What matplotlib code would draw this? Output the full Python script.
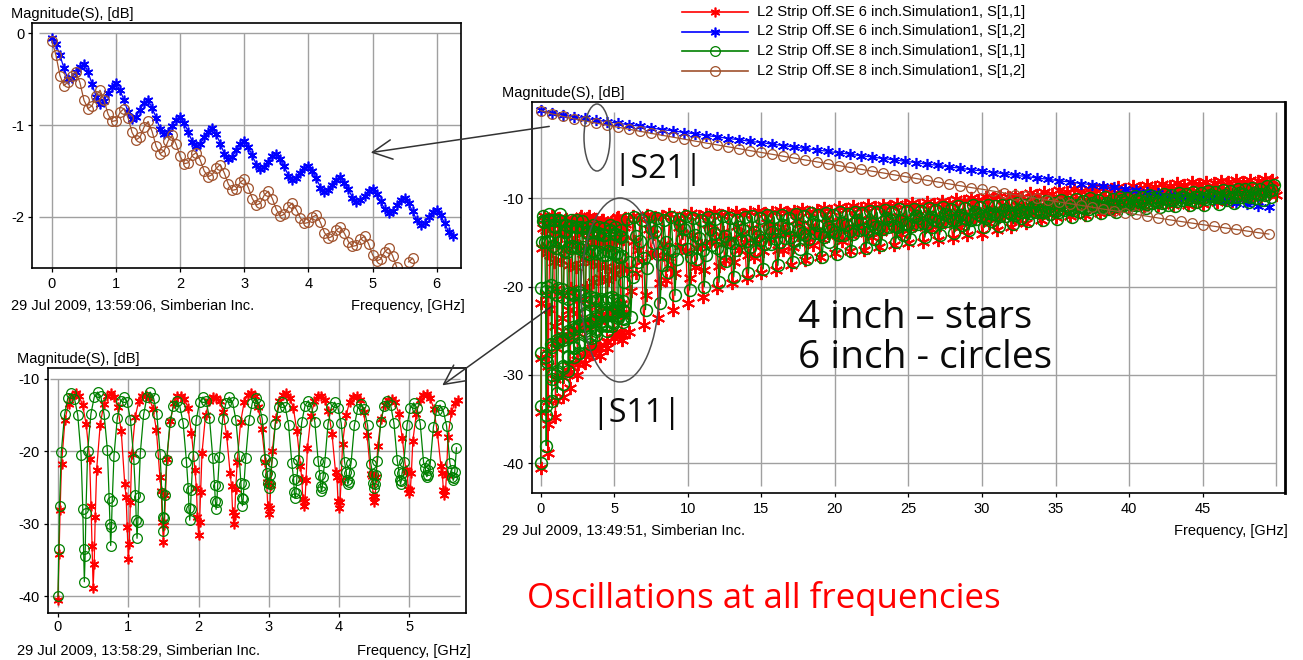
import numpy as np
import matplotlib
matplotlib.use("Agg")
import matplotlib.pyplot as plt
from matplotlib.lines import Line2D
from matplotlib.patches import Ellipse, FancyArrowPatch

plt.rcParams['font.family'] = ['Liberation Sans', 'DejaVu Sans']
plt.rcParams['axes.unicode_minus'] = False

W, H = 1303, 660

# ---------------- data ----------------
# top-left zoom: |S21| 0..6.25 GHz, step 0.0625 GHz
tl_s21_6in = [
    -0.05, -0.12, -0.24, -0.38, -0.50, -0.49, -0.42, -0.37,
    -0.33, -0.42, -0.55, -0.69, -0.77, -0.74, -0.65, -0.58,
    -0.54, -0.62, -0.73, -0.86, -0.93, -0.91, -0.83, -0.76,
    -0.73, -0.81, -0.92, -1.04, -1.10, -1.08, -1.01, -0.94,
    -0.91, -0.98, -1.07, -1.18, -1.23, -1.21, -1.13, -1.07,
    -1.03, -1.10, -1.20, -1.31, -1.37, -1.35, -1.27, -1.21,
    -1.17, -1.24, -1.33, -1.43, -1.48, -1.46, -1.40, -1.34,
    -1.31, -1.37, -1.45, -1.55, -1.60, -1.58, -1.52, -1.47,
    -1.44, -1.50, -1.58, -1.68, -1.73, -1.71, -1.65, -1.60,
    -1.57, -1.63, -1.70, -1.79, -1.84, -1.82, -1.77, -1.72,
    -1.70, -1.75, -1.83, -1.91, -1.96, -1.93, -1.87, -1.82,
    -1.79, -1.85, -1.94, -2.03, -2.09, -2.07, -2.00, -1.95,
    -1.92, -1.98, -2.07, -2.16, -2.21]
tl_s21_8in = [
    -0.08, -0.24, -0.46, -0.57, -0.53, -0.46,
    -0.42, -0.54, -0.73, -0.82, -0.79, -0.68,
    -0.62, -0.73, -0.88, -0.96, -0.95, -0.86,
    -0.82, -0.92, -1.08, -1.16, -1.13, -1.02,
    -0.96, -1.07, -1.23, -1.31, -1.28, -1.17,
    -1.11, -1.21, -1.34, -1.42, -1.41, -1.33,
    -1.30, -1.38, -1.50, -1.56, -1.54, -1.47,
    -1.43, -1.52, -1.64, -1.71, -1.70, -1.62,
    -1.59, -1.68, -1.80, -1.87, -1.85, -1.76,
    -1.72, -1.80, -1.92, -1.99, -1.97, -1.89,
    -1.85, -1.92, -2.01, -2.07, -2.06, -2.00,
    -1.98, -2.06, -2.17, -2.23, -2.21, -2.14,
    -2.11, -2.18, -2.27, -2.32, -2.31, -2.24,
    -2.21, -2.29, -2.41, -2.48, -2.46, -2.38,
    -2.34, -2.42, -2.54, -2.60, -2.57, -2.49,
    -2.45, -2.56, -2.66, -2.72, -2.70, -2.62,
    -2.58, -2.68, -2.80, -2.86, -2.84]
tl_freq = np.arange(len(tl_s21_6in)) * 0.0625

# bottom-left zoom: |S11| 0..5.7 GHz (6 inch every 0.05 GHz, 8 inch every 0.046875 GHz)
bl_s11_6in = [
    -40.5, -21.8, -15.6, -13.4, -12.4, -12.0, -12.3, -13.6, -16.2, -21.0,
    -38.8, -22.5, -16.4, -13.5, -12.3, -12.0, -12.5, -13.9, -17.2, -24.5,
    -34.8, -20.3, -15.2, -13.0, -12.3, -12.2, -12.6, -14.1, -17.0, -23.5,
    -32.5, -21.0, -15.8, -13.3, -12.4, -12.3, -12.7, -14.0, -17.5, -22.6,
    -31.5, -20.2, -15.0, -13.1, -12.5, -12.6, -13.0, -14.5, -17.8, -23.0,
    -30.0, -21.5, -15.9, -13.2, -12.2, -12.0, -12.4, -13.8, -16.9, -21.4,
    -28.7, -20.0, -15.4, -13.0, -12.2, -12.0, -12.6, -14.0, -17.2, -22.0,
    -27.6, -19.5, -15.1, -13.1, -12.4, -12.3, -12.9, -14.4, -17.6, -22.8,
    -27.8, -19.0, -15.0, -13.2, -12.5, -12.4, -12.9, -14.6, -17.8, -23.1,
    -27.0, -19.3, -15.5, -13.6, -12.9, -12.7, -13.2, -14.8, -18.1, -22.5,
    -25.8, -18.6, -14.8, -12.9, -12.2, -12.1, -12.6, -14.2, -17.4, -22.0,
    -26.0, -18.0, -14.6, -13.3, -12.9]
bl_s11_8in = [
    -40.0, -20.1, -14.9, -12.6, -12.0, -12.7, -15.0, -20.5,
    -38.0, -20.0, -14.8, -12.5, -11.8, -12.4, -14.9, -19.8,
    -33.0, -20.6, -15.4, -13.1, -12.5, -13.2, -15.6, -21.0,
    -32.0, -20.2, -14.9, -12.5, -11.8, -12.6, -14.8, -20.3,
    -31.0, -21.2, -16.0, -13.7, -13.0, -13.8, -16.1, -21.4,
    -29.5, -20.7, -15.6, -13.2, -12.5, -13.1, -15.4, -20.9,
    -28.0, -20.8, -15.5, -13.3, -12.5, -13.2, -15.6, -20.6,
    -27.5, -20.9, -15.7, -13.3, -12.6, -13.4, -15.5, -21.0,
    -25.0, -21.4, -16.2, -13.9, -13.2, -13.9, -16.3, -21.6,
    -26.5, -21.2, -16.0, -13.7, -13.0, -13.8, -16.0, -21.3,
    -25.5, -21.5, -16.2, -13.9, -13.2, -14.0, -16.1, -21.4,
    -24.5, -21.6, -16.4, -14.1, -13.4, -14.2, -16.4, -21.7,
    -25.0, -21.3, -16.0, -13.7, -13.0, -13.6, -16.1, -21.2,
    -24.5, -21.5, -16.3, -14.0, -13.3, -14.0, -16.2, -21.5,
    -23.5, -21.8, -16.6, -14.3, -13.6, -14.4, -16.5, -21.6,
    -24.0, -19.5]
bl_freq_6in = np.arange(len(bl_s11_6in)) * 0.05
bl_freq_8in = np.arange(len(bl_s11_8in)) * 0.046875

# extra samples just around every null (before2, before1, after1, after2)
null_off_6in = [-0.03, -0.015, 0.015, 0.03]
null_extra_6in = [
    [np.nan, np.nan, -34.2, -28.1],
    [-27.5, -33.0, -35.6, -29.0],
    [-26.3, -30.5, -32.8, -27.0],
    [-25.5, -29.8, -30.2, -26.0],
    [-25.0, -29.0, -29.7, -25.6],
    [-24.8, -28.3, -28.8, -25.2],
    [-24.2, -27.5, -27.8, -24.6],
    [-23.8, -26.6, -26.9, -24.0],
    [-23.5, -26.8, -27.0, -23.9],
    [-23.4, -26.1, -26.3, -23.6],
    [-22.9, -25.2, -25.3, -23.0],
    [-23.0, -25.3, -25.5, -23.2]]
null_off_8in = [-0.022, -0.011, 0.011, 0.022]
null_extra_8in = [
    [np.nan, np.nan, -33.5, -27.5],
    [-28.0, -33.5, -34.5, -28.5],
    [-26.5, -30.0, -30.5, -26.8],
    [-26.0, -29.5, -29.8, -26.3],
    [-25.8, -29.0, -29.2, -26.0],
    [-25.0, -27.8, -28.0, -25.3],
    [-24.6, -26.8, -27.0, -24.8],
    [-24.3, -26.4, -26.6, -24.5],
    [-23.0, -24.3, -24.5, -23.2],
    [-23.8, -25.6, -25.8, -24.0],
    [-23.3, -24.8, -25.0, -23.5],
    [-22.8, -24.0, -24.2, -23.0],
    [-23.1, -24.4, -24.5, -23.2],
    [-22.8, -24.0, -24.1, -23.0],
    [-22.3, -23.2, -23.3, -22.5],
    [-22.6, -23.6, -23.7, -22.8]]

# main plot: |S21| 0..49.5 GHz, step 0.75 GHz
main_s21_6in = [
    -0.05, -0.33, -0.55, -0.78, -0.95, -1.12, -1.33, -1.48, -1.68, -1.83,
    -2.03, -2.22, -2.36, -2.55, -2.70, -2.90, -3.03, -3.23, -3.36, -3.56,
    -3.69, -3.88, -4.02, -4.21, -4.34, -4.53, -4.67, -4.86, -4.99, -5.18,
    -5.31, -5.50, -5.63, -5.81, -5.95, -6.14, -6.26, -6.45, -6.58, -6.77,
    -6.89, -7.08, -7.21, -7.40, -7.52, -7.71, -7.84, -8.03, -8.15, -8.33,
    -8.46, -8.65, -8.77, -8.96, -9.09, -9.27, -9.40, -9.58, -9.71, -9.89,
    -10.02, -10.20, -10.33, -10.51, -10.63, -10.82, -10.95]
main_s21_8in = [
    -0.07, -0.43, -0.72, -0.99, -1.24, -1.48, -1.72, -1.95, -2.18, -2.41,
    -2.64, -2.86, -3.08, -3.30, -3.52, -3.74, -3.95, -4.17, -4.38, -4.60,
    -4.81, -5.02, -5.24, -5.45, -5.66, -5.86, -6.08, -6.29, -6.50, -6.71,
    -6.92, -7.12, -7.33, -7.53, -7.75, -7.96, -8.15, -8.36, -8.57, -8.78,
    -8.97, -9.18, -9.39, -9.59, -9.79, -10.00, -10.20, -10.41, -10.61, -10.80,
    -11.01, -11.22, -11.41, -11.62, -11.83, -12.03, -12.23, -12.43, -12.62, -12.80,
    -12.98, -13.16, -13.34, -13.52, -13.70, -13.88, -14.05]
main_freq_s21 = np.arange(len(main_s21_6in)) * 0.75

# main plot: |S11| above 5.7 GHz (below that the zoom data is reused)
# "hi" samples every 0.25 GHz, "mid" samples half way between them
main_s11_6in_hi = [
    -12.2, -25.1, -12.0, -18.5, -12.3, -24.4, -11.9, -16.2, -12.1, -23.6,
    -12.0, -19.3, -11.8, -22.7, -12.2, -15.4, -11.9, -21.9, -11.7, -17.8,
    -12.0, -21.2, -11.8, -14.9, -11.6, -20.1, -11.9, -17.0, -11.7, -19.6,
    -11.5, -15.8, -11.8, -19.0, -11.6, -16.6, -11.4, -18.5, -11.7, -14.6,
    -11.5, -18.1, -11.3, -15.9, -11.6, -17.6, -11.4, -14.2, -11.2, -17.0,
    -11.5, -15.3, -11.3, -16.7, -11.1, -13.9, -11.4, -16.2, -11.0, -14.8,
    -11.2, -16.0, -10.9, -13.6, -11.1, -15.8, -10.8, -14.4, -11.0, -15.5,
    -10.7, -13.2, -10.9, -15.3, -10.6, -14.0, -10.8, -15.1, -10.5, -12.9,
    -10.7, -14.9, -10.4, -13.5, -10.6, -14.7, -10.3, -12.6, -10.5, -14.5,
    -10.1, -13.2, -10.3, -14.2, -10.0, -12.3, -10.2, -14.0, -9.8, -12.8,
    -10.0, -13.6, -9.7, -12.0, -9.9, -13.2, -9.6, -12.4, -9.8, -12.8,
    -9.4, -11.5, -9.6, -12.5, -9.3, -11.8, -9.5, -12.1, -9.1, -11.2,
    -9.3, -12.0, -9.0, -11.4, -9.2, -11.9, -8.9, -10.8, -9.1, -11.7,
    -8.8, -11.1, -9.0, -11.4, -8.7, -10.5, -8.9, -11.0, -8.6, -10.6,
    -8.8, -10.9, -8.5, -10.2, -8.7, -10.8, -8.4, -10.4, -8.6, -10.7,
    -8.3, -10.0, -8.5, -10.7, -8.2, -10.3, -8.4, -10.6, -8.1, -9.9,
    -8.3, -10.4, -8.0, -10.1, -8.2, -10.3, -7.9, -9.7, -8.1, -10.0,
    -7.9, -9.8, -8.0, -9.9, -7.8, -9.5, -7.9, -9.6]
main_s11_6in_mid = [
    -18.0, -20.5, -14.8, -15.9, -17.1, -21.0, -13.5, -14.0, -16.4, -19.6,
    -15.2, -16.7, -17.9, -18.4, -13.3, -13.9, -16.0, -19.0, -14.2, -15.6,
    -15.3, -18.1, -12.9, -13.6, -14.8, -17.7, -13.8, -15.1, -14.6, -17.2,
    -13.1, -14.2, -15.0, -16.4, -13.4, -14.9, -14.3, -16.0, -12.8, -13.2,
    -14.1, -15.8, -13.2, -14.0, -13.9, -15.5, -12.5, -12.9, -13.8, -14.9,
    -13.1, -13.7, -13.6, -14.6, -12.2, -12.8, -13.5, -14.1, -12.6, -13.3,
    -13.2, -14.1, -12.0, -12.5, -13.0, -13.9, -12.3, -12.9, -12.9, -13.8,
    -11.8, -12.1, -12.8, -13.5, -12.1, -12.6, -12.7, -13.4, -11.5, -11.9,
    -12.5, -13.2, -11.7, -12.2, -12.4, -13.0, -11.3, -11.6, -12.2, -12.9,
    -11.4, -11.9, -12.0, -12.5, -11.0, -11.4, -11.8, -12.3, -11.1, -11.5,
    -11.6, -12.1, -10.7, -11.0, -11.3, -11.8, -10.8, -11.2, -11.1, -11.6,
    -10.3, -10.6, -10.9, -11.2, -10.4, -10.8, -10.6, -11.0, -10.0, -10.4,
    -10.5, -10.8, -10.1, -10.4, -10.4, -10.6, -9.7, -10.0, -10.3, -10.5,
    -9.8, -10.1, -10.1, -10.3, -9.5, -9.8, -9.9, -10.2, -9.5, -9.8,
    -9.7, -9.9, -9.3, -9.6, -9.6, -9.8, -9.3, -9.6, -9.5, -9.7,
    -9.1, -9.4, -9.5, -9.6, -9.2, -9.5, -9.4, -9.6, -9.0, -9.2,
    -9.3, -9.4, -9.0, -9.3, -9.2, -9.3, -8.8, -9.0, -9.0, -9.1,
    -8.8, -9.0, -8.9, -9.0, -8.6, -8.8, -8.7]
main_s11_8in_hi = [
    -12.3, -23.4, -12.1, -17.2, -12.4, -22.6, -12.0, -15.1, -12.2, -21.9,
    -12.5, -18.3, -12.1, -21.0, -12.3, -14.6, -12.0, -20.4, -12.2, -16.9,
    -12.4, -20.0, -12.1, -15.3, -12.3, -19.5, -12.0, -17.1, -12.2, -18.9,
    -12.4, -14.7, -12.1, -18.5, -12.0, -16.0, -12.2, -18.0, -11.9, -15.2,
    -12.1, -17.6, -11.9, -14.5, -12.2, -17.2, -11.8, -15.7, -12.0, -16.9,
    -11.7, -13.9, -11.9, -16.6, -11.7, -15.0, -11.9, -16.3, -11.6, -14.1,
    -11.8, -16.0, -11.5, -13.6, -11.7, -15.6, -11.4, -14.6, -11.6, -15.3,
    -11.3, -13.2, -11.5, -15.0, -11.2, -14.1, -11.4, -14.6, -11.2, -12.9,
    -11.4, -14.4, -11.1, -13.3, -11.3, -14.1, -11.0, -12.6, -11.2, -13.9,
    -10.9, -13.0, -11.1, -13.6, -10.8, -12.3, -11.0, -13.3, -10.8, -12.6,
    -10.9, -13.1, -10.7, -12.0, -10.8, -12.9, -10.5, -12.2, -10.7, -12.6,
    -10.4, -11.6, -10.6, -12.5, -10.3, -11.8, -10.5, -12.3, -10.2, -11.3,
    -10.4, -12.1, -10.1, -11.5, -10.3, -11.9, -10.0, -11.0, -10.2, -11.7,
    -9.9, -11.2, -10.1, -11.5, -9.8, -10.7, -10.0, -11.2, -9.7, -10.8,
    -9.9, -11.1, -9.6, -10.5, -9.8, -11.0, -9.5, -10.7, -9.6, -10.9,
    -9.4, -10.2, -9.5, -10.8, -9.3, -10.4, -9.4, -10.7, -9.2, -10.0,
    -9.3, -10.6, -9.1, -10.2, -9.2, -10.5, -8.9, -9.9, -9.0, -10.4,
    -8.8, -10.0, -8.9, -10.2, -8.6, -9.8, -8.5]
main_s11_8in_mid = [
    -17.2, -18.9, -14.3, -14.8, -16.8, -17.9, -13.4, -13.7, -16.3, -17.5,
    -15.0, -15.7, -16.0, -16.9, -13.0, -13.5, -15.7, -16.6, -14.1, -14.5,
    -15.8, -16.4, -13.5, -13.9, -15.6, -16.0, -14.3, -14.9, -15.1, -15.8,
    -13.3, -13.6, -14.8, -15.5, -13.8, -14.3, -14.7, -15.2, -13.4, -13.8,
    -14.6, -15.0, -13.0, -13.4, -14.4, -14.8, -13.6, -13.9, -14.2, -14.6,
    -12.7, -13.0, -14.0, -14.4, -13.2, -13.6, -13.8, -14.2, -12.8, -13.0,
    -13.7, -14.0, -12.5, -12.8, -13.5, -13.7, -12.9, -13.2, -13.3, -13.5,
    -12.2, -12.5, -13.1, -13.3, -12.6, -12.9, -12.9, -13.1, -12.0, -12.2,
    -12.8, -12.9, -12.1, -12.4, -12.6, -12.7, -11.8, -12.0, -12.4, -12.5,
    -11.9, -12.2, -12.3, -12.4, -11.5, -11.8, -12.0, -12.2, -11.7, -11.8,
    -11.9, -12.0, -11.3, -11.5, -11.8, -11.9, -11.3, -11.5, -11.6, -11.7,
    -11.0, -11.2, -11.5, -11.6, -11.0, -11.2, -11.4, -11.5, -10.7, -10.9,
    -11.2, -11.3, -10.8, -11.0, -11.1, -11.2, -10.5, -10.7, -11.0, -11.0,
    -10.5, -10.7, -10.8, -10.9, -10.2, -10.4, -10.6, -10.7, -10.2, -10.3,
    -10.5, -10.6, -10.0, -10.2, -10.4, -10.5, -10.1, -10.2, -10.2, -10.3,
    -9.8, -9.9, -10.1, -10.2, -9.8, -9.9, -10.0, -10.1, -9.6, -9.7,
    -9.9, -10.0, -9.6, -9.8, -9.8, -9.9, -9.4, -9.5, -9.7, -9.8,
    -9.4, -9.5, -9.5, -9.6, -9.2, -9.1]

legend_labels = [
    "L2 Strip Off.SE 6 inch.Simulation1, S[1,1]",
    "L2 Strip Off.SE 6 inch.Simulation1, S[1,2]",
    "L2 Strip Off.SE 8 inch.Simulation1, S[1,1]",
    "L2 Strip Off.SE 8 inch.Simulation1, S[1,2]",
]

# ---------------- styles ----------------
RED, BLUE, GREEN, BROWN = '#ff0000', '#0000ff', '#008000', '#a0522d'
GRID = '#a0a0a0'


def star(size, mew=1.2):
    return dict(marker=(6, 2, 0), ms=size, mew=mew, lw=0.9)


def ring(size, mew=0.9):
    return dict(marker='o', ms=size, mfc='none', mew=mew, lw=0.9)


# zoom panels
st_s11_6 = dict(color=RED, **star(7))
st_s21_6 = dict(color=BLUE, **star(7))
st_s11_8 = dict(color=GREEN, **ring(7))
st_s21_8 = dict(color=BROWN, **ring(7))
# main panel (denser, slightly larger marks)
mst_s11_6 = dict(color=RED, **star(9.5, 1.4))
mst_s21_6 = dict(color=BLUE, **star(8))
mst_s11_8 = dict(color=GREEN, **ring(8.5, 1.1))
mst_s21_8 = dict(color=BROWN, **ring(7))
SMALL = 10.5


def px_rect(x0, y0, x1, y1):
    return [x0 / W, 1 - y1 / H, (x1 - x0) / W, (y1 - y0) / H]


def ftext(x, y, s, **kw):
    kw.setdefault('fontsize', SMALL)
    kw.setdefault('va', 'baseline')
    return fig.text(x / W, 1 - y / H, s, **kw)


def setup(ax, xlim, ylim, xticks, yticks, vext, hext, xpad, ypad, extra_v=()):
    ax.set_xlim(xlim)
    ax.set_ylim(ylim)
    ax.set_xticks(xticks)
    ax.set_yticks(yticks)
    ax.vlines(list(xticks) + list(extra_v), vext[0], vext[1], colors=GRID, lw=1.0, zorder=0.5)
    ax.hlines(yticks, hext[0], hext[1], colors=GRID, lw=1.0, zorder=0.5)
    ax.tick_params(direction='out', length=3, width=0.9, labelsize=SMALL)
    ax.tick_params(axis='x', pad=xpad)
    ax.tick_params(axis='y', pad=ypad)
    for sp in ax.spines.values():
        sp.set_linewidth(1.2)


def hide_below(y, lo):
    y = np.asarray(y, float)
    return np.where(y < lo, np.nan, y)


def add_null_detail(freq, vals, per_lobe, offsets, extra):
    # merge the extra samples taken around each null into the sweep
    nulls = freq[::per_lobe]
    ex_x = (nulls[:, None] + np.asarray(offsets)[None, :]).ravel()
    ex_y = np.asarray(extra, float).ravel()
    x = np.concatenate([freq, ex_x])
    y = np.concatenate([np.asarray(vals, float), ex_y])
    keep = ~np.isnan(y)
    x, y = x[keep], y[keep]
    order = np.argsort(x, kind='stable')
    return x[order], y[order]


def interleave(hi, mid, start):
    y = np.empty(len(hi) + len(mid))
    y[0::2] = hi
    y[1::2] = mid
    return start + 0.125 * np.arange(len(y)), y


fig = plt.figure(figsize=(W / 100, H / 100), dpi=100)

bl_x6, bl_y6 = add_null_detail(bl_freq_6in, bl_s11_6in, 10, null_off_6in, null_extra_6in)
bl_x8, bl_y8 = add_null_detail(bl_freq_8in, bl_s11_8in, 8, null_off_8in, null_extra_8in)

# ---- top-left: |S21| zoom ----
ax1 = fig.add_axes(px_rect(32, 23.3, 461, 268.3))
setup(ax1, (-0.311, 6.38), (-2.559, 0.109), range(0, 7), [0, -1, -2],
      (-2.559, 0), (-0.2, 6.38), 3, 2.2)
ax1.plot(tl_freq, tl_s21_6in, **st_s21_6)
ax1.plot(tl_freq, hide_below(tl_s21_8in, -2.559), **st_s21_8)
ftext(10.7, 18.3, 'Magnitude(S), [dB]')
ftext(10.7, 310, '29 Jul 2009, 13:59:06, Simberian Inc.')
ftext(465, 310, 'Frequency, [GHz]', ha='right')

# ---- bottom-left: |S11| zoom ----
ax2 = fig.add_axes(px_rect(47.7, 367.7, 465.7, 612.7))
setup(ax2, (-0.1466, 5.803), (-42.27, -8.44), range(0, 6), [-10, -20, -30, -40],
      (-41.5, -10), (-0.11, 5.72), 2, 2.5)
ax2.plot(bl_x6, bl_y6, **st_s11_6)
ax2.plot(bl_x8, bl_y8, **st_s11_8)
ftext(16.7, 362.7, 'Magnitude(S), [dB]')
ftext(16.7, 655, '29 Jul 2009, 13:58:29, Simberian Inc.')
ftext(471, 655, 'Frequency, [GHz]', ha='right')

# ---- main plot ----
hx6, hy6 = interleave(main_s11_6in_hi, main_s11_6in_mid, 5.75)
hx8, hy8 = interleave(main_s11_8in_hi, main_s11_8in_mid, 5.875)
main_f6 = np.concatenate([bl_x6, hx6])
main_y6 = np.concatenate([bl_y6, hy6])
main_f8 = np.concatenate([bl_x8, hx8])
main_y8 = np.concatenate([bl_y8, hy8])
f_end = max(main_f6.max(), main_freq_s21.max())

ax3 = fig.add_axes(px_rect(532.3, 101.7, 1285, 493.3))
setup(ax3, (-0.571, 50.6), (-43.4, 0.94), range(0, 50, 5), [-10, -20, -30, -40],
      (-42.6, -0.2), (-0.571, f_end), 3, 2.9, extra_v=[f_end])
ax3.spines['right'].set_linewidth(2.0)
ax3.plot(main_f6, main_y6, **mst_s11_6)
ax3.plot(main_freq_s21, main_s21_6in, **mst_s21_6)
ax3.plot(main_f8, main_y8, **mst_s11_8)
ax3.plot(main_freq_s21, main_s21_8in, **mst_s21_8)
ftext(502, 96.7, 'Magnitude(S), [dB]')
ftext(502.3, 535, '29 Jul 2009, 13:49:51, Simberian Inc.')
ftext(1288, 535, 'Frequency, [GHz]', ha='right')

# ---- legend (drawn in figure pixels) ----
for i, (lab, st) in enumerate(zip(legend_labels, [st_s11_6, st_s21_6, st_s11_8, st_s21_8])):
    yf = 1 - (12 + 19.5 * i) / H
    fig.add_artist(Line2D([682 / W, 748 / W], [yf, yf], color=st['color'], lw=1.2,
                          transform=fig.transFigure))
    mk = {k: v for k, v in st.items() if k != 'lw'}
    fig.add_artist(Line2D([715 / W], [yf], ls='none', transform=fig.transFigure, **mk))
    fig.text(757 / W, yf, lab, fontsize=SMALL, va='center')

# ---- annotations ----
renderer = fig.canvas.get_renderer()


def fit_text(s, x0, x1, base_y, color='#0a0a0a', family='Open Sans'):
    t = fig.text(x0 / W, 1 - base_y / H, s, fontsize=20, family=family,
                 color=color, va='baseline')
    w = t.get_window_extent(renderer).width
    t.set_fontsize(20 * (x1 - x0) / w)
    return t


fit_text('|S21|', 613, 702, 178.3)
fit_text('|S11|', 591.7, 681.7, 421.7)
fit_text('4 inch \u2013 stars', 798, 1032, 328)
fit_text('6 inch - circles', 798, 1052, 368)
fit_text('Oscillations at all frequencies', 527, 1000, 608, color='#ff0000')

for cx, cy, ew, eh in [(597, 137.5, 26, 67), (620, 290, 78, 184)]:
    fig.add_artist(Ellipse((cx / W, 1 - cy / H), ew / W, eh / H, fc='none',
                           ec='#505050', lw=1.1, transform=fig.transFigure))

for (xa, ya), (xb, yb) in [((552, 126), (368, 153)), ((555, 304), (440, 387))]:
    fig.add_artist(FancyArrowPatch((xa / W, 1 - ya / H), (xb / W, 1 - yb / H),
                                   arrowstyle='->,head_length=0.7,head_width=0.35',
                                   mutation_scale=20, color='#333333', lw=1.1,
                                   transform=fig.transFigure))

fig.savefig('out.png', dpi=100)
